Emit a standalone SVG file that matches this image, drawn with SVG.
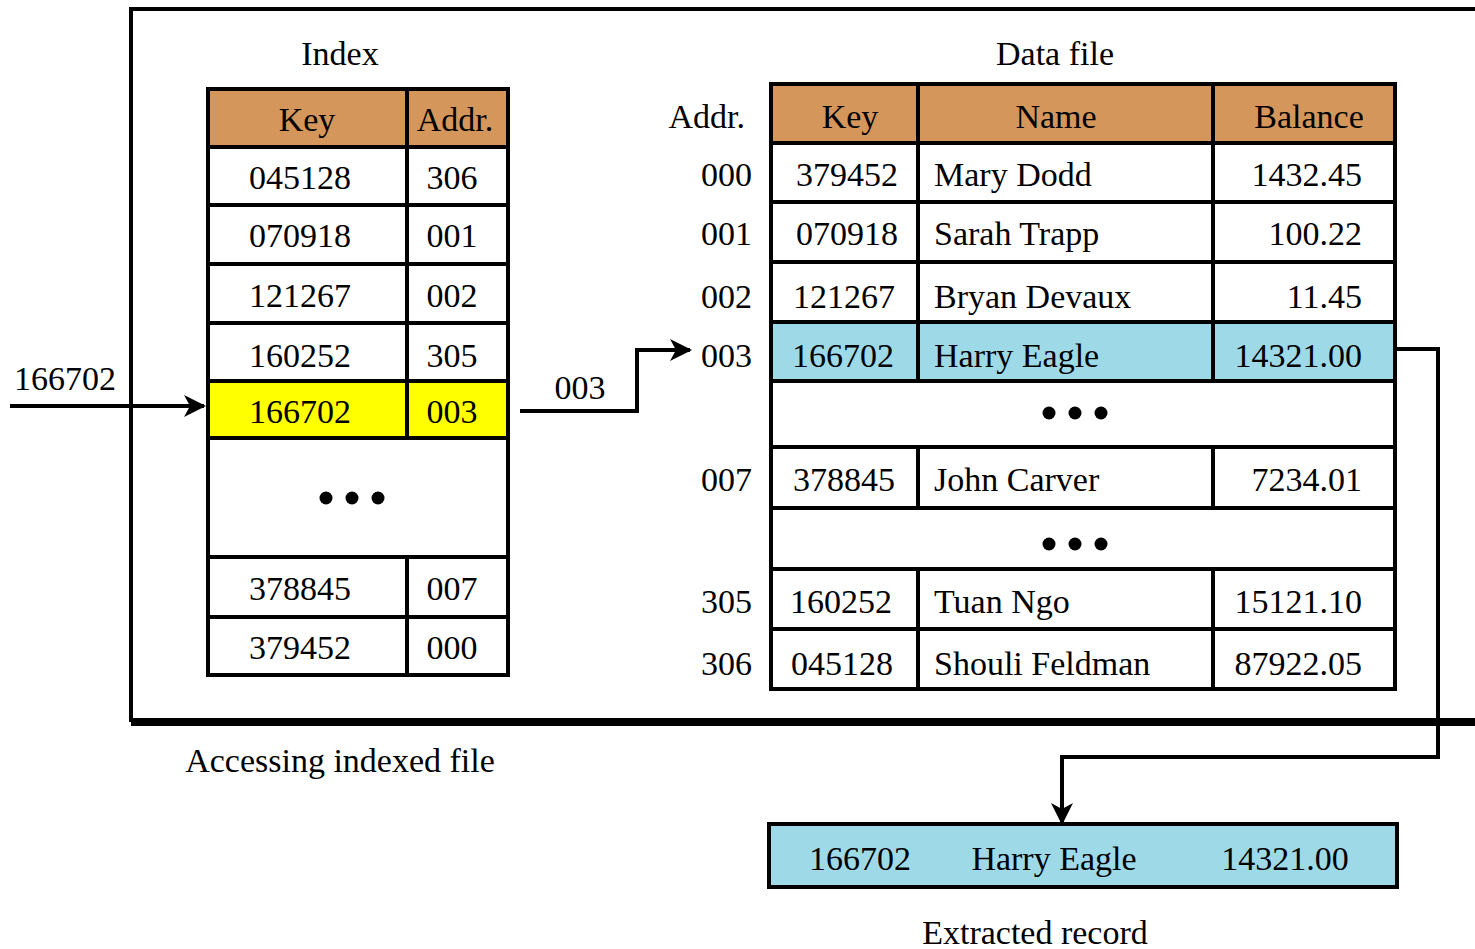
<svg xmlns="http://www.w3.org/2000/svg" width="1475" height="949" viewBox="0 0 1475 949">
  <style>
    text { font-family: "Liberation Serif", "Times New Roman", serif; font-size: 34px; fill: #000; }
    .c { text-anchor: middle; }
    .r { text-anchor: end; }
    .cell { fill: #fff; stroke: #000; stroke-width: 4; }
    .hdr { fill: #D4965A; stroke: #000; stroke-width: 4; }
    .hit { fill: #FFFF00; stroke: #000; stroke-width: 4; }
    .sel { fill: #9ED9E8; stroke: #000; stroke-width: 4; }
    .wire { fill: none; stroke: #000; stroke-width: 4; }
    .dot { fill: #000; }
  </style>
  <defs>
    <marker id="arrow" viewBox="0 0 22 22" refX="20" refY="11" markerWidth="22" markerHeight="22" markerUnits="userSpaceOnUse" orient="auto">
      <path d="M0,0 L22,11 L0,22 L6,11 Z" fill="#000"/>
    </marker>
  </defs>

  <rect width="1475" height="949" fill="#fff"/>

  <!-- frame -->
  <g id="frame">
    <path d="M1475,9 H131 V722" fill="none" stroke="#000" stroke-width="4"/>
    <line x1="131" y1="722" x2="1475" y2="722" stroke="#000" stroke-width="8"/>
  </g>

  <!-- index table -->
  <g id="index">
    <text class="c" x="340" y="65">Index</text>
    <rect class="hdr" x="208" y="89" width="199" height="58"/>
    <rect class="hdr" x="407" y="89" width="101" height="58"/>
    <text class="c" x="307" y="131">Key</text>
    <text class="c" x="455" y="131">Addr.</text>

    <rect class="cell" x="208" y="147" width="199" height="58"/>
    <rect class="cell" x="407" y="147" width="101" height="58"/>
    <text class="c" x="300" y="189">045128</text>
    <text class="c" x="452" y="189">306</text>

    <rect class="cell" x="208" y="205" width="199" height="59"/>
    <rect class="cell" x="407" y="205" width="101" height="59"/>
    <text class="c" x="300" y="247">070918</text>
    <text class="c" x="452" y="247">001</text>

    <rect class="cell" x="208" y="264" width="199" height="59"/>
    <rect class="cell" x="407" y="264" width="101" height="59"/>
    <text class="c" x="300" y="307">121267</text>
    <text class="c" x="452" y="307">002</text>

    <rect class="cell" x="208" y="323" width="199" height="58"/>
    <rect class="cell" x="407" y="323" width="101" height="58"/>
    <text class="c" x="300" y="367">160252</text>
    <text class="c" x="452" y="367">305</text>

    <rect class="hit" x="208" y="381" width="199" height="57"/>
    <rect class="hit" x="407" y="381" width="101" height="57"/>
    <text class="c" x="300" y="423">166702</text>
    <text class="c" x="452" y="423">003</text>

    <rect class="cell" x="208" y="438" width="300" height="119"/>
    <circle class="dot" cx="326" cy="498" r="6.5"/>
    <circle class="dot" cx="352" cy="498" r="6.5"/>
    <circle class="dot" cx="378" cy="498" r="6.5"/>

    <rect class="cell" x="208" y="557" width="199" height="60"/>
    <rect class="cell" x="407" y="557" width="101" height="60"/>
    <text class="c" x="300" y="600">378845</text>
    <text class="c" x="452" y="600">007</text>

    <rect class="cell" x="208" y="617" width="199" height="58"/>
    <rect class="cell" x="407" y="617" width="101" height="58"/>
    <text class="c" x="300" y="659">379452</text>
    <text class="c" x="452" y="659">000</text>
  </g>

  <!-- data file table -->
  <g id="datafile">
    <text class="c" x="1055" y="65">Data file</text>
    <text class="r" x="745" y="128">Addr.</text>
    <rect class="hdr" x="771" y="84" width="147" height="59"/>
    <rect class="hdr" x="918" y="84" width="295" height="59"/>
    <rect class="hdr" x="1213" y="84" width="182" height="59"/>
    <text class="c" x="850" y="128">Key</text>
    <text class="c" x="1056" y="128">Name</text>
    <text class="c" x="1309" y="128">Balance</text>

    <text class="r" x="752" y="186">000</text>
    <rect class="cell" x="771" y="143" width="147" height="59"/>
    <rect class="cell" x="918" y="143" width="295" height="59"/>
    <rect class="cell" x="1213" y="143" width="182" height="59"/>
    <text class="c" x="847" y="186">379452</text>
    <text x="934" y="186">Mary Dodd</text>
    <text class="r" x="1362" y="186">1432.45</text>

    <text class="r" x="752" y="245">001</text>
    <rect class="cell" x="771" y="202" width="147" height="60"/>
    <rect class="cell" x="918" y="202" width="295" height="60"/>
    <rect class="cell" x="1213" y="202" width="182" height="60"/>
    <text class="c" x="847" y="245">070918</text>
    <text x="934" y="245">Sarah Trapp</text>
    <text class="r" x="1362" y="245">100.22</text>

    <text class="r" x="752" y="308">002</text>
    <rect class="cell" x="771" y="262" width="147" height="60"/>
    <rect class="cell" x="918" y="262" width="295" height="60"/>
    <rect class="cell" x="1213" y="262" width="182" height="60"/>
    <text class="c" x="844" y="308">121267</text>
    <text x="934" y="308">Bryan Devaux</text>
    <text class="r" x="1362" y="308">11.45</text>

    <text class="r" x="752" y="367">003</text>
    <rect class="sel" x="771" y="322" width="147" height="59"/>
    <rect class="sel" x="918" y="322" width="295" height="59"/>
    <rect class="sel" x="1213" y="322" width="182" height="59"/>
    <text class="c" x="843" y="367">166702</text>
    <text x="934" y="367">Harry Eagle</text>
    <text class="r" x="1362" y="367">14321.00</text>

    <rect class="cell" x="771" y="381" width="624" height="66"/>
    <circle class="dot" cx="1049" cy="413" r="6.5"/>
    <circle class="dot" cx="1075" cy="413" r="6.5"/>
    <circle class="dot" cx="1101" cy="413" r="6.5"/>

    <text class="r" x="752" y="491">007</text>
    <rect class="cell" x="771" y="447" width="147" height="61"/>
    <rect class="cell" x="918" y="447" width="295" height="61"/>
    <rect class="cell" x="1213" y="447" width="182" height="61"/>
    <text class="c" x="844" y="491">378845</text>
    <text x="934" y="491">John Carver</text>
    <text class="r" x="1362" y="491">7234.01</text>

    <rect class="cell" x="771" y="508" width="624" height="61"/>
    <circle class="dot" cx="1049" cy="544" r="6.5"/>
    <circle class="dot" cx="1075" cy="544" r="6.5"/>
    <circle class="dot" cx="1101" cy="544" r="6.5"/>

    <text class="r" x="752" y="613">305</text>
    <rect class="cell" x="771" y="569" width="147" height="60"/>
    <rect class="cell" x="918" y="569" width="295" height="60"/>
    <rect class="cell" x="1213" y="569" width="182" height="60"/>
    <text class="c" x="841" y="613">160252</text>
    <text x="934" y="613">Tuan Ngo</text>
    <text class="r" x="1362" y="613">15121.10</text>

    <text class="r" x="752" y="675">306</text>
    <rect class="cell" x="771" y="629" width="147" height="60"/>
    <rect class="cell" x="918" y="629" width="295" height="60"/>
    <rect class="cell" x="1213" y="629" width="182" height="60"/>
    <text class="c" x="842" y="675">045128</text>
    <text x="934" y="675">Shouli Feldman</text>
    <text class="r" x="1362" y="675">87922.05</text>
  </g>

  <!-- extracted record -->
  <g id="record">
    <rect class="sel" x="769" y="824" width="628" height="63"/>
    <text class="c" x="860" y="870">166702</text>
    <text class="c" x="1054" y="870">Harry Eagle</text>
    <text class="c" x="1285" y="870">14321.00</text>
  </g>

  <!-- captions -->
  <g id="captions">
    <text x="14" y="390">166702</text>
    <text class="c" x="580" y="399">003</text>
    <text class="c" x="340" y="772">Accessing indexed file</text>
    <text class="c" x="1035" y="944">Extracted record</text>
  </g>

  <!-- connectors -->
  <g id="connectors">
    <path class="wire" d="M10,406 H204" marker-end="url(#arrow)"/>
    <path class="wire" d="M520,411 H637 V350 H690" marker-end="url(#arrow)"/>
    <path class="wire" d="M1397,349 H1438 V757 H1062 V823" marker-end="url(#arrow)"/>
  </g>
</svg>
